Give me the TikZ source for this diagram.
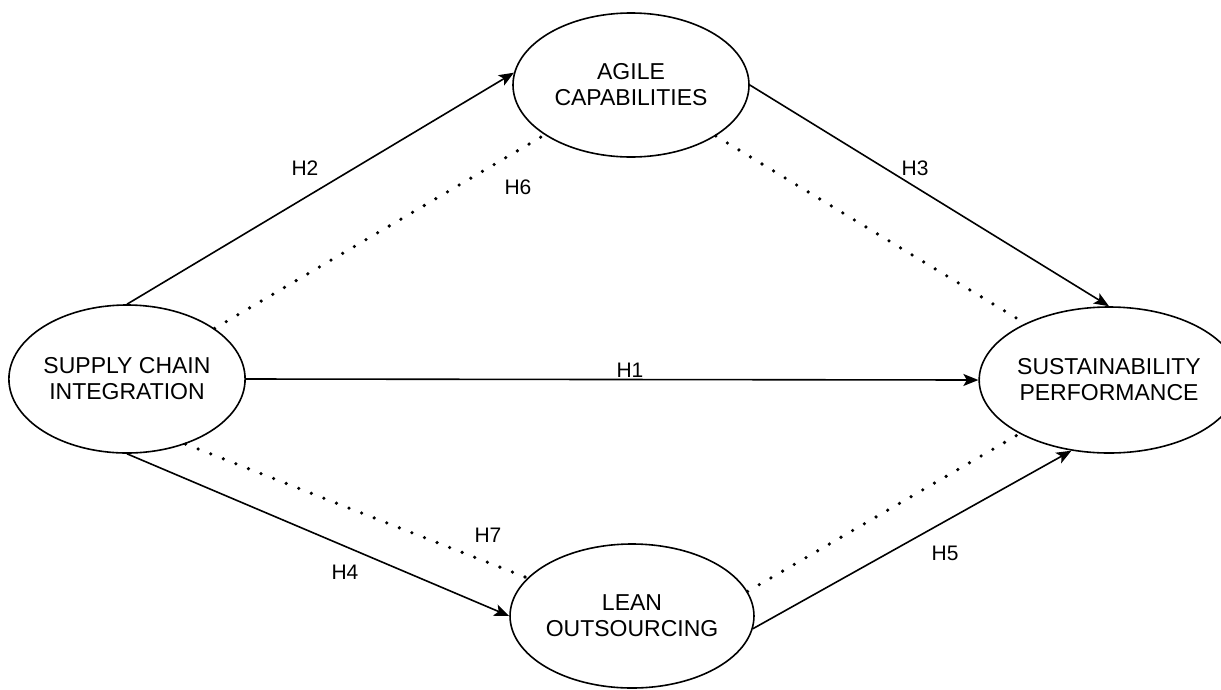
\documentclass[tikz,border=0pt]{standalone}
\usepackage{fontspec}
\setmainfont{Liberation Sans}
\usetikzlibrary{shapes.geometric,arrows.meta}
\begin{document}
\begin{tikzpicture}[x=1pt,y=-1pt,
  construct/.style={ellipse,draw,line width=1.6pt,inner sep=0pt,align=center,
    font=\fontsize{23}{26}\selectfont},
  hyp/.style={line width=1.6pt,-{Stealth[length=15pt,width=12pt,inset=3.5pt]}},
  dotline/.style={line width=3.6pt,line cap=round,dash pattern=on 0pt off 13.5pt},
  lbl/.style={font=\fontsize{21}{24}\selectfont,inner sep=0pt}]
\useasboundingbox (0,0) rectangle (1221,689);
\node[construct,minimum width=234pt,minimum height=148pt] (sci) at (127,379) {SUPPLY CHAIN\\INTEGRATION};
\node[construct,minimum width=236pt,minimum height=144pt] (agile) at (631,85) {AGILE\\CAPABILITIES};
\node[construct,minimum width=234pt,minimum height=144pt] (lean) at (632,616) {LEAN\\OUTSOURCING};
\node[construct,minimum width=222pt,minimum height=146pt] (sp) at (1109,380) {SUSTAINABILITY\\PERFORMANCE};

\draw[hyp] (sci.north) -- (agile.174);
\draw[hyp] (agile.east) -- (sp.north);
\draw[hyp] (sci.east) -- (sp.west);
\draw[hyp] (sci.south) -- (lean.west);
\draw[hyp] (lean.-6.5) -- (sp.242);

\draw[dotline] (sci.30) -- (agile.210);
\draw[dotline] (agile.-31) -- (sp.146);
\draw[dotline] (sci.-48) -- (lean.160);
\draw[dotline] (lean.12) -- (sp.211);

\node[lbl] (h1) at (630,370) {H1};
\node[lbl] (h2) at (305,168) {H2};
\node[lbl] (h3) at (915,168) {H3};
\node[lbl] (h4) at (345,572) {H4};
\node[lbl] (h5) at (945,553) {H5};
\node[lbl] (h6) at (518,187) {H6};
\node[lbl] (h7) at (488,535) {H7};
\end{tikzpicture}
\end{document}
